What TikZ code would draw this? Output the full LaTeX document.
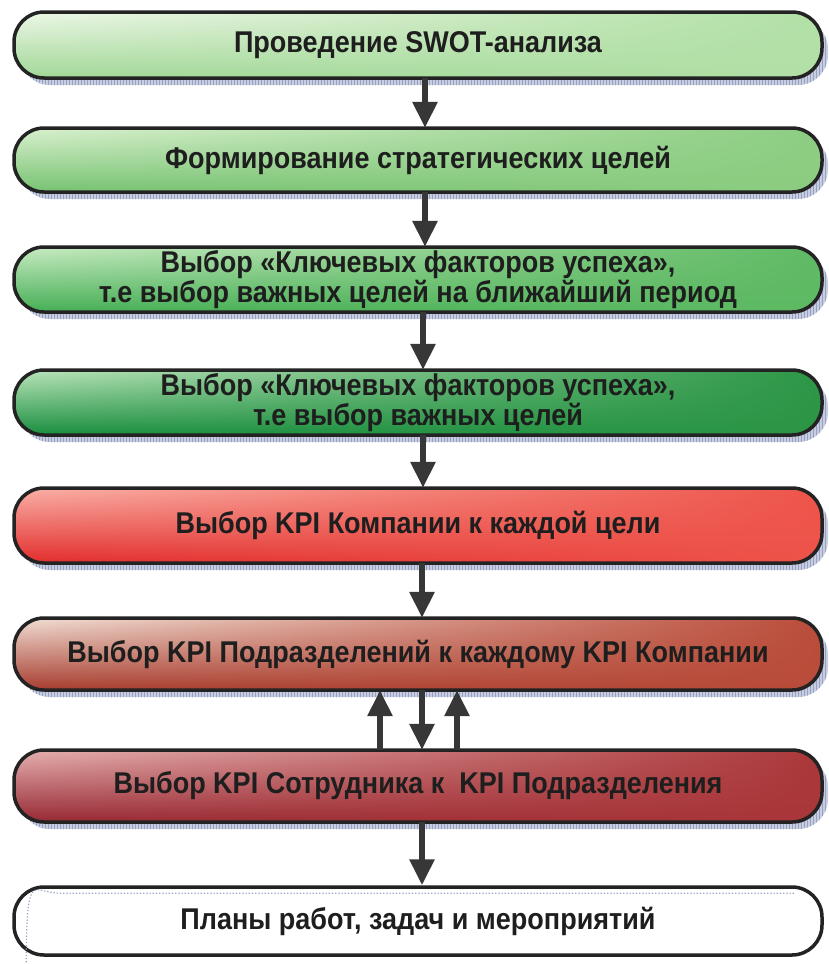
\documentclass[tikz,border=0pt]{standalone}
\usepackage{fontspec}
\setmainfont{Liberation Sans}[FakeStretch=0.9]
\usetikzlibrary{arrows.meta,patterns,fadings}

% horizontal fading: transparent on the left, opaque on the right
\tikzfading[name=fromleft, left color=transparent!100, right color=transparent!0]

\definecolor{edge}{RGB}{35,35,35}
\definecolor{txt}{RGB}{30,30,30}
\definecolor{arrowc}{RGB}{55,55,55}
\definecolor{shadowc}{RGB}{200,206,224}
\definecolor{hatchc}{RGB}{150,160,195}
% green stages
\definecolor{gAt}{RGB}{238,248,232}\definecolor{gAb}{RGB}{160,215,150}\definecolor{gAr}{RGB}{178,224,166}
\definecolor{gBt}{RGB}{218,241,208}\definecolor{gBb}{RGB}{118,194,112}\definecolor{gBr}{RGB}{140,205,130}
\definecolor{gCt}{RGB}{202,236,196}\definecolor{gCb}{RGB}{68,174,84}\definecolor{gCr}{RGB}{95,186,100}
\definecolor{gDt}{RGB}{188,229,188}\definecolor{gDb}{RGB}{24,142,62}\definecolor{gDr}{RGB}{44,150,70}
% red stages
\definecolor{rAt}{RGB}{250,178,168}\definecolor{rAb}{RGB}{226,44,44}\definecolor{rAr}{RGB}{238,84,74}
\definecolor{rBt}{RGB}{242,224,214}\definecolor{rBb}{RGB}{166,60,46}\definecolor{rBr}{RGB}{186,76,58}
\definecolor{rCt}{RGB}{230,178,178}\definecolor{rCb}{RGB}{150,40,50}\definecolor{rCr}{RGB}{170,55,58}

\tikzset{
  stagebox/.style={rectangle, rounded corners=30pt, minimum width=808pt,
    inner sep=0pt, align=center, text=txt,
    font=\fontsize{30}{28.5}\selectfont\bfseries,
    preaction={fill=shadowc, transform canvas={xshift=6pt, yshift=-7pt}},
    preaction={pattern=vertical lines, pattern color=hatchc,
      transform canvas={xshift=6pt, yshift=-7pt}}},
  tint/.style n args={3}{top color=#1, bottom color=#2,
    postaction={fill=#3, path fading=fromleft},
    postaction={draw=edge, line width=3.5pt}},
  flow/.style={draw=arrowc, line width=6pt, -{Triangle[width=24pt,length=26pt]}}
}

\begin{document}
\begin{tikzpicture}[x=1pt, y=-1pt]
  \useasboundingbox[fill=white] (0,0) rectangle (828,964);

  \node[stagebox, tint={gAt}{gAb}{gAr}, minimum height=66pt] (s1) at (418,45)
    {Проведение SWOT-анализа};
  \node[stagebox, tint={gBt}{gBb}{gBr}, minimum height=64pt] (s2) at (418,160)
    {Формирование стратегических целей};
  \node[stagebox, tint={gCt}{gCb}{gCr}, minimum height=65pt] (s3) at (418,279.5)
    {Выбор «Ключевых факторов успеха»,\\т.е выбор важных целей на ближайший период};
  \node[stagebox, tint={gDt}{gDb}{gDr}, minimum height=65pt] (s4) at (418,402.5)
    {Выбор «Ключевых факторов успеха»,\\т.е выбор важных целей};
  \node[stagebox, tint={rAt}{rAb}{rAr}, minimum height=75pt] (s5) at (418,525.5)
    {Выбор KPI Компании к каждой цели};
  \node[stagebox, tint={rBt}{rBb}{rBr}, minimum height=72pt] (s6) at (418,654)
    {Выбор KPI Подразделений к каждому KPI Компании};
  \node[stagebox, tint={rCt}{rCb}{rCr}, minimum height=72pt] (s7) at (418,786)
    {Выбор KPI Сотрудника к\ \ KPI Подразделения};
  \node[rectangle, rounded corners=30pt, minimum width=808pt, minimum height=68pt,
    inner sep=0pt, text=txt, font=\fontsize{30}{28.5}\selectfont\bfseries,
    fill=white, draw=edge, line width=3.5pt] (s8) at (418,921)
    {Планы работ, задач и мероприятий};

  % faint inner hatch along the top and left of the last box
  \draw[hatchc, line width=1.2pt, dotted]
    ([xshift=14pt,yshift=-12pt]s8.south west) .. controls ([xshift=14pt,yshift=20pt]s8.north west) and ([xshift=20pt,yshift=-8pt]s8.north west) .. ([xshift=48pt,yshift=-8pt]s8.north west)
    -- ([xshift=-30pt,yshift=-8pt]s8.north east);

  \draw[flow] ([xshift=7pt]s1.south) -- ([xshift=7pt]s2.north);
  \draw[flow] ([xshift=7pt]s2.south) -- ([xshift=7pt]s3.north);
  \draw[flow] ([xshift=5pt]s3.south) -- ([xshift=5pt]s4.north);
  \draw[flow] ([xshift=5pt]s4.south) -- ([xshift=5pt]s5.north);
  \draw[flow] ([xshift=4pt]s5.south) -- ([xshift=4pt]s6.north);
  \draw[flow] ([xshift=4pt]s6.south) -- ([xshift=4pt]s7.north);
  \draw[flow] ([xshift=-38pt]s7.north) -- ([xshift=-38pt]s6.south);
  \draw[flow] ([xshift=39pt]s7.north) -- ([xshift=39pt]s6.south);
  \draw[flow] ([xshift=4pt]s7.south) -- ([xshift=4pt]s8.north);
\end{tikzpicture}
\end{document}
